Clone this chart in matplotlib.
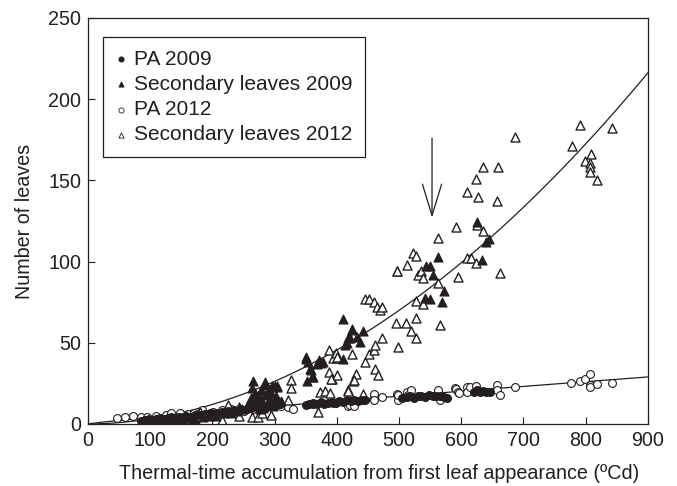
import matplotlib
matplotlib.use("Agg")
import matplotlib.pyplot as plt
import numpy as np

plt.rcParams["font.family"] = ["Liberation Sans", "DejaVu Sans"]
INK = "#231f20"

# Primary axis (PA) leaves, 2009 (filled circles)
pa09_x = [85, 92, 98, 104, 110, 116, 122, 128, 134, 140, 146, 152, 158, 165, 172,
          180, 188, 196, 205, 215, 225, 235, 245, 255, 262, 270, 278, 285, 292,
          300, 308, 350, 356, 362, 368, 374, 380, 386, 392, 398, 404, 410, 416,
          422, 428, 434, 440, 446, 505, 512, 518, 524, 530, 536, 542, 548, 554,
          560, 566, 572, 577, 620, 625, 630, 635, 640, 646]
pa09_y = [2, 2.5, 3, 2.5, 3, 3.5, 2.8, 3.5, 4, 3.5, 4.5, 4, 5, 4.5, 5.5,
          5.5, 6, 6.5, 7, 7.5, 8, 8.5, 9, 9.5, 10, 10.5, 11, 10, 12,
          11.5, 12, 11.7, 12.5, 13, 12, 13.5, 12.5, 13, 13.5, 13, 14, 13.5, 14.5,
          14, 15, 14, 15, 14.5, 16, 16.5, 17, 16, 17.5, 17, 16.5, 18, 17,
          17.5, 17, 16.5, 16, 20, 21, 19.5, 20.5, 20, 19.5]

# Secondary leaves, 2009 (filled triangles)
sec09_x = [92, 98, 105, 112, 120, 128, 135, 142, 150, 158, 165, 172, 185, 195,
           205, 218, 230, 240, 248, 255, 258, 262, 263, 265, 268, 270, 272, 275,
           276, 278, 280, 282, 284, 285, 285, 288, 290, 292, 294, 295, 297, 298,
           300, 302, 303, 305, 310, 350, 351, 352, 354, 357, 359, 360, 361, 368,
           372, 374, 377, 410, 410, 413, 416, 418, 421, 424, 425, 432, 437, 442,
           541, 549, 569, 573, 543, 549, 555, 563, 626, 633, 639, 645]
sec09_y = [1, 2, 1.5, 2.5, 1, 2, 3, 1.5, 2.5, 3.5, 2, 3, 4, 5,
           5, 6.5, 7, 8, 9, 11, 13, 16, 22, 26.5, 19, 15, 12, 17,
           9, 21, 14, 10, 24, 26, 18, 12, 20, 15, 19, 23.4, 11, 22.6,
           23.4, 17, 23, 13, 14, 40, 41, 26.5, 38.4, 34, 33, 28.8, 28.7, 37,
           39.4, 37.7, 38.4, 40, 64.5, 48.6, 49.7, 53, 52.8, 58, 58.5, 53.5, 50.7, 57,
           77.4, 77, 75, 82, 97.5, 97, 92, 103, 124.5, 101, 112, 114]

# Primary axis (PA) leaves, 2012 (open circles)
pa12_x = [46, 59, 73, 85, 95, 110, 125, 134, 148, 160, 170, 183, 201, 215, 230,
          250, 265, 275, 298, 310, 322, 330, 362, 394, 418, 421, 427, 459, 459,
          459, 472, 496, 499, 499, 512, 515, 520, 563, 563, 566, 566, 590, 592,
          594, 596, 609, 609, 614, 624, 658, 658, 662, 687, 777, 791, 799, 807,
          807, 807, 819, 842]
pa12_y = [3.5, 4.5, 5, 4, 4.5, 5, 5.5, 6.6, 6.6, 6, 7, 8.6, 7.6, 8.6, 9,
          8, 9.5, 11, 12.7, 11, 10.7, 9.2, 12.3, 13, 11, 11.7, 11, 17.8, 18.5,
          14.8, 16.4, 18.5, 14.8, 17.8, 20, 17.8, 21, 20.5, 21, 15.8, 15, 22, 21.5,
          20, 19.3, 23, 19.6, 22.6, 23.4, 24, 21, 18, 23, 25.5, 26.7, 27.7, 30.8,
          24, 23, 24.6, 25.5]

# Secondary leaves, 2012 (open triangles)
sec12_x = [90, 110, 130, 150, 160, 180, 199, 215, 225, 242, 243, 263, 274, 279,
           294, 303, 322, 327, 327, 370, 373, 381, 389, 418, 442, 387, 394, 400,
           388, 392, 401, 390, 431, 426, 428, 424, 445, 452, 460, 461, 461, 466,
           472, 445, 452, 460, 464, 469, 472, 496, 498, 495, 511, 519, 527, 566,
           496, 512, 523, 527, 531, 536, 539, 527, 528, 539, 562, 563, 591, 594,
           609, 615, 624, 626, 635, 662, 610, 623, 627, 635, 658, 659, 687, 778,
           791, 799, 807, 807, 807, 809, 819, 842, 399, 400, 418]
sec12_y = [1, 0.5, 1, 1.5, 0.8, 7.6, 6.6, 2.5, 11.7, 5, 10.7, 4.5, 4.5, 6.8,
           5.5, 23.4, 14.8, 27, 22, 7.6, 20, 20.5, 19.3, 21, 18.5, 45.5, 40.4, 40.4,
           32, 27.5, 30, 28, 30.8, 26.7, 27, 43, 38.4, 43, 45.5, 48.6, 34, 30,
           52.8, 77, 77, 75, 72, 70, 72, 94, 47.6, 62, 62, 57, 53, 61,
           94, 98, 105, 103.5, 92, 94, 90, 65.5, 76, 74, 114.5, 87, 121, 90.5,
           102, 102.5, 99, 122.5, 119, 93, 143, 151, 140, 158, 137.5, 158, 177, 171,
           184, 162, 161, 158, 155, 166, 150, 182, 44, 41.5, 20.5]

# Fitted power curves y = a * x**b
sec_fit = (4.6e-4, 1.92)
pa_fit = (0.068, 0.89)

FS = 14.2

fig = plt.figure(figsize=(6.77, 4.86), dpi=100)
ax = fig.add_axes([0.130, 0.1276, 0.827, 0.8354])

xs = np.linspace(0, 900, 400)
ax.plot(xs, sec_fit[0] * xs ** sec_fit[1], color=INK, lw=0.9, zorder=1)
ax.plot(xs, pa_fit[0] * xs ** pa_fit[1], color=INK, lw=0.9, zorder=1)

ms_tri, ms_circ = 42, 32
ax.scatter(pa12_x, pa12_y, marker="o", s=ms_circ, facecolors="white",
           edgecolors=INK, linewidths=0.8, zorder=2, label="PA 2012")
ax.scatter(sec12_x, sec12_y, marker="^", s=ms_tri, facecolors="white",
           edgecolors=INK, linewidths=1.0, zorder=2, label="Secondary leaves 2012")
ax.scatter(pa09_x, pa09_y, marker="o", s=ms_circ, facecolors=INK,
           edgecolors=INK, linewidths=0.8, zorder=3, label="PA 2009")
ax.scatter(sec09_x, sec09_y, marker="^", s=ms_tri, facecolors=INK,
           edgecolors=INK, linewidths=0.8, zorder=3, label="Secondary leaves 2009")

# arrow marking the thermal time of interest
ax.annotate("", xy=(553, 127), xytext=(553, 176),
            arrowprops=dict(arrowstyle="->,head_length=2.26,head_width=0.69",
                            mutation_scale=10, color=INK, lw=0.9,
                            shrinkA=0, shrinkB=0))

ax.set_xlim(0, 900)
ax.set_ylim(0, 250)
ax.set_xticks(range(0, 901, 100))
ax.set_yticks(range(0, 251, 50))
ax.tick_params(direction="in", length=5, width=0.8, colors=INK,
               labelsize=FS, pad=5, top=False, right=False)
for sp in ax.spines.values():
    sp.set_linewidth(0.9)
    sp.set_color(INK)

ax.set_xlabel("Thermal-time accumulation from first leaf appearance (ºCd)",
              fontsize=FS, color=INK)
ax.xaxis.set_label_coords(0.52, -0.098)
ax.set_ylabel("Number of leaves", fontsize=FS, color=INK, labelpad=10)

handles, labels = ax.get_legend_handles_labels()
order = [labels.index(l) for l in
         ["PA 2009", "Secondary leaves 2009", "PA 2012", "Secondary leaves 2012"]]
leg = ax.legend([handles[i] for i in order], [labels[i] for i in order],
                loc="upper left", bbox_to_anchor=(0.027, 0.953),
                borderaxespad=0, fontsize=15,
                handlelength=0.5, handletextpad=0.4, labelspacing=0.3,
                borderpad=0.6, fancybox=False, framealpha=1, edgecolor=INK)
leg.get_frame().set_linewidth(0.9)
# small legend symbols with thin outlines so the open ones stay open
for h in leg.legend_handles:
    h.set_sizes([14])
    h.set_linewidths([0.6])
for t in leg.get_texts():
    t.set_color(INK)

fig.savefig("out.png", dpi=100)
